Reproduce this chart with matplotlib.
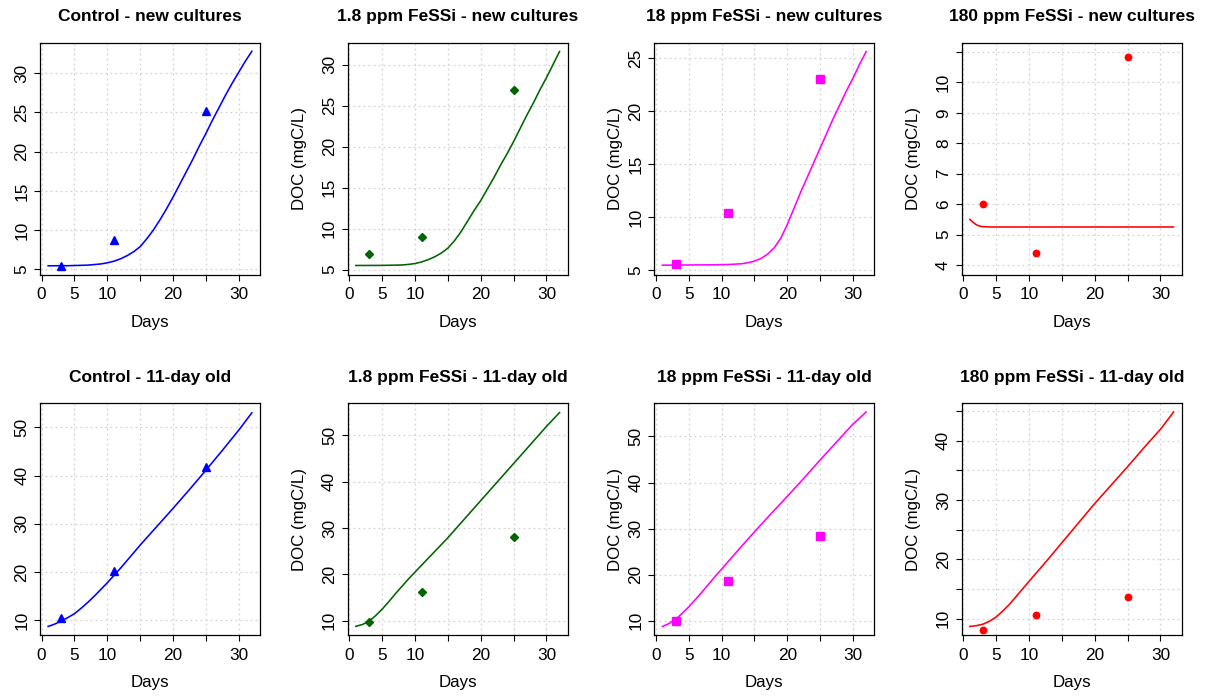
import matplotlib
matplotlib.use("Agg")
import matplotlib.pyplot as plt

plt.rcParams['font.family'] = ['Liberation Sans', 'DejaVu Sans']

# ---- data -------------------------------------------------------------
treatments = ["Control", "1.8 ppm FeSSi", "18 ppm FeSSi", "180 ppm FeSSi"]
ages = ["new cultures", "11-day old"]
colors = ["#0000FF", "#006400", "#FF00FF", "#FF0000"]

obs_days = [3, 11, 25]

# measured DOC (mgC/L), new cultures
obs_control_new = [5.5, 8.8, 25.2]
obs_fe18_new = [6.85, 8.95, 26.95]      # 1.8 ppm
obs_fe180_new = [5.55, 10.4, 23.05]     # 18 ppm
obs_fe1800_new = [6.02, 4.41, 10.82]    # 180 ppm

# measured DOC (mgC/L), 11-day old cultures
obs_control_old = [10.5, 20.3, 41.7]
obs_fe18_old = [9.65, 16.2, 28.1]
obs_fe180_old = [10.0, 18.6, 28.5]
obs_fe1800_old = [8.15, 10.7, 13.6]

# model curves (days, DOC)
fit_days_control_new = [1, 4, 7, 9, 10, 11, 12, 13, 14, 15, 16, 17, 18, 19, 20, 21, 22,
                        23, 24, 25, 26, 27, 28, 29, 30, 31, 32]
fit_control_new = [5.47, 5.48, 5.55, 5.7, 5.85, 6.05, 6.35, 6.75, 7.25, 7.9, 8.9, 10.0, 11.3,
                   12.7, 14.2, 15.8, 17.4, 19.0, 20.7, 22.3, 24.0, 25.6, 27.2, 28.7, 30.1,
                   31.5, 32.77]

fit_days_fe18_new = [1, 5, 8, 9, 10, 11, 12, 13, 14, 15, 16, 17, 18, 19, 20, 21, 22, 23,
                     24, 25, 26, 27, 28, 29, 30, 31, 32]
fit_fe18_new = [5.49, 5.5, 5.55, 5.62, 5.73, 5.92, 6.2, 6.55, 7.0, 7.6, 8.5, 9.6, 10.9, 12.2,
                13.4, 14.8, 16.2, 17.7, 19.1, 20.6, 22.2, 23.8, 25.3, 26.9, 28.4, 30.0, 31.6]

fit_days_fe180_new = [1, 8, 11, 13, 14, 15, 16, 17, 18, 19, 20, 21, 22, 23, 24, 25, 26,
                      27, 28, 29, 30, 31, 32]
fit_fe180_new = [5.47, 5.5, 5.53, 5.6, 5.7, 5.85, 6.1, 6.5, 7.1, 8.0, 9.3, 10.8, 12.3, 13.7,
                 15.1, 16.5, 17.9, 19.3, 20.6, 21.9, 23.1, 24.4, 25.6]

fit_days_fe1800_new = [1, 1.5, 2, 2.5, 3, 4, 32]
fit_fe1800_new = [5.50, 5.40, 5.32, 5.28, 5.26, 5.25, 5.25]

fit_days_control_old = [1, 2, 3, 4, 5, 6, 7, 8, 9, 10, 11, 12, 13, 14, 15, 17.5, 20, 22.5,
                        25, 27.5, 30, 32]
fit_control_old = [8.76, 9.25, 9.9, 10.6, 11.4, 12.5, 13.7, 15.0, 16.4, 17.8, 19.3, 20.8,
                   22.4, 24.0, 25.6, 29.4, 33.2, 37.1, 41.1, 45.2, 49.4, 53.0]

fit_days_fe18_old = [1, 2, 3, 4, 5, 6, 7, 8, 9, 10, 12.5, 15, 17.5, 20, 22.5, 25, 27.5,
                     30, 32]
fit_fe18_old = [8.8, 9.2, 9.9, 11.1, 12.5, 14.1, 15.8, 17.4, 19.0, 20.5, 24.2, 27.9, 31.9,
                35.9, 39.9, 43.9, 47.9, 51.9, 54.9]

fit_days_fe180_old = [1, 2, 3, 4, 5, 6, 7, 8, 9, 10, 12.5, 15, 17.5, 20, 22.5, 25, 27.5,
                      30, 32]
fit_fe180_old = [8.77, 9.4, 10.3, 11.6, 13.0, 14.6, 16.2, 17.9, 19.6, 21.2, 25.3, 29.3,
                 33.2, 37.0, 40.9, 44.9, 48.8, 52.7, 55.3]

fit_days_fe1800_old = [1, 2, 3, 4, 5, 6, 7, 8, 9, 10, 12.5, 15, 17.5, 20, 22.5, 25, 27.5,
                       30, 32]
fit_fe1800_old = [8.71, 8.85, 9.1, 9.6, 10.3, 11.3, 12.4, 13.7, 15.0, 16.3, 19.5, 22.8,
                  26.1, 29.4, 32.5, 35.6, 38.8, 41.9, 44.8]

# axis settings per panel
y_limits_new = [(4.36, 33.83), (4.39, 32.64), (4.59, 26.41), (3.69, 11.29)]
y_limits_old = [(7.03, 54.97), (6.98, 56.9), (6.96, 57.2), (7.31, 46.28)]
y_ticks_new = [[5, 10, 15, 20, 25, 30], [5, 10, 15, 20, 25, 30], [5, 10, 15, 20, 25],
               [4, 5, 6, 7, 8, 9, 10, 11]]
y_labels_new = [["5", "10", "15", "20", "25", "30"], ["5", "10", "15", "20", "25", "30"],
                ["5", "10", "15", "20", "25"], ["4", "5", "6", "7", "8", "9", "10", ""]]
y_ticks_old = [[10, 20, 30, 40, 50], [10, 20, 30, 40, 50], [10, 20, 30, 40, 50],
               [10, 15, 20, 25, 30, 35, 40, 45]]
y_labels_old = [["10", "20", "30", "40", "50"], ["10", "20", "30", "40", "50"],
                ["10", "20", "30", "40", "50"], ["10", "", "20", "", "30", "", "40", ""]]
x_ticks = [0, 5, 10, 15, 20, 25, 30]
x_labels = ["0", "5", "10", "", "20", "", "30"]

# ---- figure -----------------------------------------------------------
W, H = 1209, 698
fig = plt.figure(figsize=(W / 100, H / 100), dpi=100)
fig.patch.set_facecolor("white")

col_left = [40, 347.7, 654.3, 961.7]
row_top = [43, 403.3]
box_w, box_h = 220, 231.5
ylabel_offset = [None, 41, 31, 41]   # px from box to y-label

marker_styles = [("^", 5.6), ("D", 3.9), ("s", 5.2), ("o", 4.6)]

obs_rows = [[obs_control_new, obs_fe18_new, obs_fe180_new, obs_fe1800_new],
            [obs_control_old, obs_fe18_old, obs_fe180_old, obs_fe1800_old]]
fit_day_rows = [[fit_days_control_new, fit_days_fe18_new, fit_days_fe180_new, fit_days_fe1800_new],
                [fit_days_control_old, fit_days_fe18_old, fit_days_fe180_old, fit_days_fe1800_old]]
fit_rows = [[fit_control_new, fit_fe18_new, fit_fe180_new, fit_fe1800_new],
            [fit_control_old, fit_fe18_old, fit_fe180_old, fit_fe1800_old]]
ylim_rows = [y_limits_new, y_limits_old]
ytick_rows = [y_ticks_new, y_ticks_old]
ylab_rows = [y_labels_new, y_labels_old]

for r in range(2):
    for c in range(4):
        l = col_left[c] / W
        b = (H - row_top[r] - box_h) / H
        ax = fig.add_axes([l, b, box_w / W, box_h / H])
        col = colors[c]
        mk, ms = marker_styles[c]

        ax.plot(fit_day_rows[r][c], fit_rows[r][c], color=col, lw=1.15, zorder=3,
                solid_joinstyle="round")
        ax.plot(obs_days, obs_rows[r][c], ls="none", marker=mk, ms=ms,
                color=col, mec=col, zorder=4)

        ax.set_xlim(-0.24, 33.24)
        ax.set_ylim(*ylim_rows[r][c])
        ax.set_xticks(x_ticks)
        ax.set_xticklabels(x_labels)
        ax.set_yticks(ytick_rows[r][c])
        ax.set_yticklabels(ylab_rows[r][c])
        for lab in ax.get_yticklabels():
            lab.set_rotation(90)
            lab.set_va("center")

        ax.grid(True, color="#D3D3D3", linestyle=(0, (1.5, 2.5)), lw=0.9)
        ax.set_axisbelow(True)
        for sp in ax.spines.values():
            sp.set_linewidth(0.9)
            sp.set_color("black")
        ax.tick_params(direction="out", length=4.3, width=0.8, labelsize=12.4,
                       colors="black")
        ax.tick_params(axis="x", pad=5.0)
        ax.tick_params(axis="y", pad=3.5)

        ax.set_title(f"{treatments[c]} - {ages[r]}", fontsize=12.5,
                     fontweight="bold", pad=15.5)
        ax.set_xlabel("Days", fontsize=12.2)
        ax.xaxis.set_label_coords(0.5, -40.5 / box_h)
        if c > 0:
            ax.set_ylabel("DOC (mgC/L)", fontsize=12.2)
            ax.yaxis.set_label_coords(-ylabel_offset[c] / box_w, 0.5)

fig.savefig("out.png", dpi=100, facecolor="white")
